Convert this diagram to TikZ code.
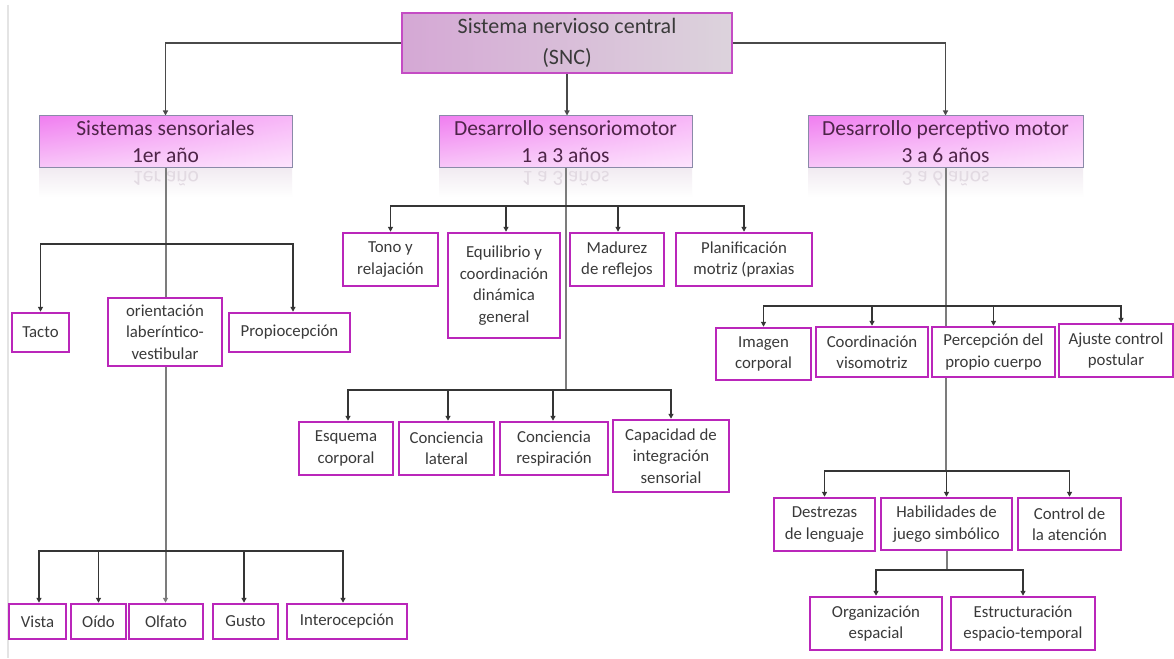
\documentclass[tikz,border=0pt]{standalone}
\usepackage{fontspec}
\setmainfont{Carlito}
\usetikzlibrary{arrows.meta,backgrounds,shadings}
\definecolor{boxmag}{HTML}{BA26BA}
\definecolor{txtgray}{HTML}{3A3A3A}
\definecolor{lvtxt}{HTML}{4E2448}
\definecolor{lvborder}{HTML}{8A8AA8}
\definecolor{topborder}{HTML}{C44CC4}
\definecolor{busc}{HTML}{353535}
\definecolor{trunkc}{HTML}{7C7C7C}
\definecolor{l1c}{HTML}{4A4A4A}
\definecolor{reflc}{HTML}{E2DAE2}
\definecolor{edgec}{HTML}{E4E4E4}
\definecolor{ulc}{HTML}{F07EF0}
\definecolor{urc}{HTML}{F7B6F7}
\definecolor{llc}{HTML}{F8C6F8}
\definecolor{lrc}{HTML}{FDE4FD}
\definecolor{toplc}{HTML}{D5A8D5}
\definecolor{toprc}{HTML}{DCD3DC}
\definecolor{reftop}{HTML}{F0EAF0}
\tikzset{
  x=1pt, y=-1pt,
  leaf/.style={draw=boxmag, line width=2.5pt, fill=white, text=txtgray, align=center,
    inner sep=0pt, font=\fontsize{16.8}{21.5}\selectfont},
  lvbox/.style={draw=lvborder, line width=1pt, upper left=ulc, upper right=urc,
    lower left=llc, lower right=lrc, text=lvtxt, align=center, inner sep=0pt,
    minimum height=51pt, font=\fontsize{21.5}{27}\selectfont},
  topbox/.style={draw=topborder, line width=1.3pt, left color=toplc, right color=toprc,
    text=txtgray, align=center, inner sep=0pt, font=\fontsize{22}{31}\selectfont},
  tip/.style={-{Triangle[length=5pt,width=5pt]}},
  l1/.style={draw=l1c, line width=1.6pt, tip},
  bus/.style={draw=busc, line width=1.4pt, tip},
  trunk/.style={draw=trunkc, line width=2pt},
  refl/.style={text=reflc, yscale=-1, transform shape, inner sep=0pt, font=\fontsize{21.5}{27}\selectfont},
}
\begin{document}
\begin{tikzpicture}
\useasboundingbox (0,0) rectangle (1174,658);

% top and level 2
\node[topbox, minimum width=330pt, minimum height=60pt] (top) at (567,43) {Sistema nervioso central\\(SNC)};
\node[lvbox, minimum width=253pt] (sist) at (165.5,141.5) {Sistemas sensoriales\\1er año};
\node[lvbox, minimum width=253pt] (dessm) at (565.5,141.5) {Desarrollo sensoriomotor\\1 a 3 años};
\node[lvbox, minimum width=275pt] (despm) at (945.5,141.5) {Desarrollo perceptivo motor\\3 a 6 años};

% left branch
\node[leaf, minimum width=57pt, minimum height=39pt] (tacto) at (40.5,332.5) {Tacto};
\node[leaf, minimum width=114pt, minimum height=68pt] (orient) at (165,332) {orientación\\laberíntico-\\vestibular};
\node[leaf, minimum width=121pt, minimum height=39pt] (propio) at (289.5,332.5) {Propiocepción};
\node[leaf, minimum width=57pt, minimum height=35pt] (vista) at (37.5,621.5) {Vista};
\node[leaf, minimum width=55pt, minimum height=35pt] (oido) at (98.5,621.5) {Oído};
\node[leaf, minimum width=74pt, minimum height=35pt] (olfato) at (166,621.5) {Olfato};
\node[leaf, minimum width=65pt, minimum height=35pt] (gusto) at (245.5,621.5) {Gusto};
\node[leaf, minimum width=120pt, minimum height=35pt] (intero) at (347,621.5) {Interocepción};

% middle branch
\node[leaf, minimum width=95pt, minimum height=53pt] (tono) at (390.5,259.5) {Tono y\\relajación};
\node[leaf, minimum width=112pt, minimum height=105pt] (equil) at (504,285.5) {Equilibrio y\\coordinación\\dinámica\\general};
\node[leaf, minimum width=94pt, minimum height=53pt] (madurez) at (617,259.5) {Madurez\\de reflejos};
\node[leaf, minimum width=136pt, minimum height=53pt] (planif) at (744,259.5) {Planificación\\motriz (praxias};
\node[leaf, minimum width=94pt, minimum height=53pt] (esquema) at (346,448.5) {Esquema\\corporal};
\node[leaf, minimum width=95pt, minimum height=53pt] (conclat) at (446.5,448.5) {Conciencia\\lateral};
\node[leaf, minimum width=108pt, minimum height=53pt] (concresp) at (554,448.5) {Conciencia\\respiración};
\node[leaf, minimum width=116pt, minimum height=72pt] (capac) at (671,456) {Capacidad de\\integración\\sensorial};

% right branch
\node[leaf, minimum width=95pt, minimum height=52pt] (imagen) at (763.5,354) {Imagen\\corporal};
\node[leaf, minimum width=112pt, minimum height=50pt] (coord) at (872,352) {Coordinación\\visomotriz};
\node[leaf, minimum width=123pt, minimum height=50pt] (percep) at (993.5,352) {Percepción del\\propio cuerpo};
\node[leaf, minimum width=114pt, minimum height=53pt] (ajuste) at (1116,350.5) {Ajuste control\\postular};
\node[leaf, minimum width=101pt, minimum height=53pt] (destrezas) at (824.5,524.5) {Destrezas\\de lenguaje};
\node[leaf, minimum width=131pt, minimum height=52pt] (habil) at (946.5,524) {Habilidades de\\juego simbólico};
\node[leaf, minimum width=103pt, minimum height=52pt] (control) at (1069.5,524) {Control de\\la atención};
\node[leaf, minimum width=132pt, minimum height=53pt] (organiz) at (876,623.5) {Organización\\espacial};
\node[leaf, minimum width=144pt, minimum height=53pt] (estruct) at (1023,623.5) {Estructuración\\espacio-temporal};

\begin{pgfonlayer}{background}
  \fill[white] (0,0) rectangle (1174,658);
  \draw[draw=edgec, line width=2pt] (8,5) -- (8,658);
  % reflections
  \fill[top color=reftop, bottom color=white] (39,167) rectangle (292,197);
  \fill[top color=reftop, bottom color=white] (439,167) rectangle (692,197);
  \fill[top color=reftop, bottom color=white] (808,167) rectangle (1083,197);
  \begin{scope}
    \clip (0,167) rectangle (1174,186);
    \node[refl] (r1) at (165.5,179) {1er año};
    \node[refl] (r2) at (565.5,179) {1 a 3 años};
    \node[refl] (r3) at (945.5,179) {3 a 6 años};
  \end{scope}

  % level 1 connectors
  \draw[l1] (top.west) -| (sist.north);
  \draw[l1] (top.east) -| (despm.north);
  \draw[l1] (top.south) -- (top.south |- dessm.north);

  % left branch
  \draw[trunk, tip] (sist.south) -- (sist.south |- olfato.north);
  \coordinate (b1) at (165.5,244);
  \draw[bus] (b1) -| (tacto.north);
  \draw[bus] (b1) -| ([xshift=3.5pt]propio.north);
  \coordinate (b2) at (165.5,551);
  \draw[bus] (b2) -| ([xshift=1.5pt]vista.north);
  \draw[bus] (b2) -| (oido.north);
  \draw[bus] (b2) -| ([xshift=-1.5pt]gusto.north);
  \draw[bus] (b2) -| ([xshift=-4pt]intero.north);

  % middle branch
  \draw[trunk] (dessm.south) -- (565.5,390);
  \coordinate (b3) at (565.5,206);
  \draw[bus] (b3) -| (tono.north);
  \draw[bus] (b3) -| ([xshift=2pt]equil.north);
  \draw[bus] (b3) -| ([xshift=1pt]madurez.north);
  \draw[bus] (b3) -| (planif.north);
  \coordinate (b4) at (565.5,390);
  \draw[bus] (b4) -| ([xshift=2pt]esquema.north);
  \draw[bus] (b4) -| ([xshift=1.5pt]conclat.north);
  \draw[bus] (b4) -| ([xshift=-1pt]concresp.north);
  \draw[bus] (b4) -| (capac.north);

  % right branch
  \draw[trunk] (despm.south) -- (945.5,471);
  \coordinate (b5) at (945.5,306);
  \draw[bus] (b5) -| (imagen.north);
  \draw[bus] (b5) -| (coord.north);
  \draw[bus] (b5) -| (percep.north);
  \draw[bus] (b5) -| ([xshift=5pt]ajuste.north);
  \coordinate (b6) at (945.5,471);
  \draw[bus] (b6) -| (destrezas.north);
  \draw[bus] (b6) -| (habil.north);
  \draw[bus] (b6) -| (control.north);
  \draw[trunk] (habil.south) -- (habil.south |- 0,570);
  \coordinate (b7) at (946.5,570);
  \draw[bus] (b7) -| (organiz.north);
  \draw[bus] (b7) -| (estruct.north);
\end{pgfonlayer}
\end{tikzpicture}
\end{document}
